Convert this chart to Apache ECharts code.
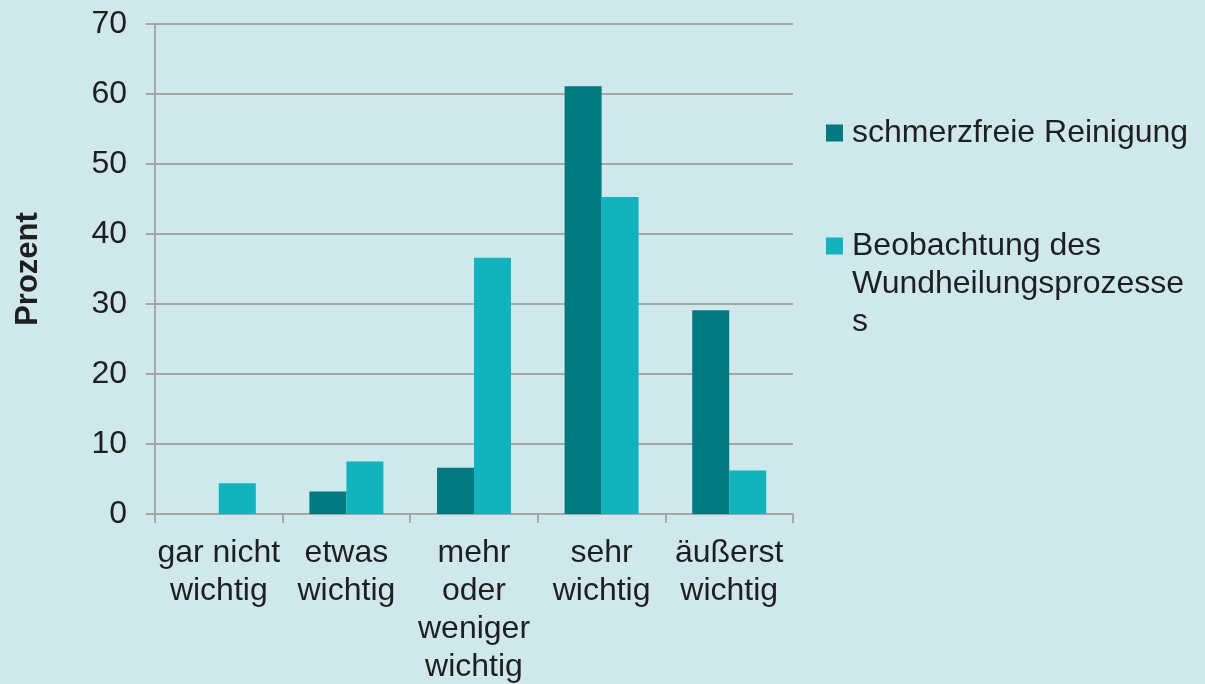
<!DOCTYPE html>
<html>
<head>
<meta charset="utf-8">
<script src="https://cdn.jsdelivr.net/npm/echarts@6/dist/echarts.min.js"></script>
<style>
	html, body { margin: 0; padding: 0; background: #cfe8eb; }
	#chart { width: 1205px; height: 684px; }
</style>
</head>
<body>
<div id="chart"></div>
<script>
// Kategorien (x-Achse)
var categories = [
	"gar nicht\nwichtig",
	"etwas\nwichtig",
	"mehr\noder\nweniger\nwichtig",
	"sehr\nwichtig",
	"äußerst\nwichtig",
];
var seriesNames = ["schmerzfreie Reinigung", "Beobachtung des Wundheilungsprozesses"];
var schmerzfrei = [0, 3.2, 6.6, 61.1, 29.1];
var wundheilung = [4.4, 7.5, 36.6, 45.3, 6.2];
var yTicks = [0, 10, 20, 30, 40, 50, 60, 70];

var textColor = "#1f1f1f";
var font = "Liberation Sans, Arial, sans-serif";

var myChart = echarts.init(document.getElementById("chart"));

var option = {
	backgroundColor: "#cfe8eb",
	animation: false,
	textStyle: { fontFamily: font },
	grid: { left: 155, right: 412, top: 24, bottom: 170, containLabel: false, outerBoundsMode: "none" },
	legend: [
		{
			data: [seriesNames[0]],
			left: 821,
			top: 112,
			icon: "rect",
			itemWidth: 17,
			itemHeight: 17,
			itemGap: 0,
			textStyle: { fontSize: 32, color: textColor, fontFamily: font, padding: [0, 0, 0, 4] },
		},
		{
			data: [seriesNames[1]],
			left: 821,
			top: 146,
			icon: "rect",
			itemWidth: 17,
			itemHeight: 17,
			itemGap: 0,
			formatter: function () {
				return "\n\nBeobachtung des\nWundheilungsprozesse\ns";
			},
			textStyle: { fontSize: 32, lineHeight: 38, color: textColor, fontFamily: font, padding: [0, 0, 0, 4] },
		},
	],
	xAxis: {
		type: "category",
		data: categories,
		axisLine: { lineStyle: { color: "#a6a6a6", width: 2 } },
		axisTick: { show: true, length: 9, lineStyle: { color: "#a6a6a6", width: 2 } },
		axisLabel: { fontSize: 32, lineHeight: 38, color: textColor, margin: 20, interval: 0 },
	},
	yAxis: {
		type: "value",
		min: yTicks[0],
		max: yTicks[yTicks.length - 1],
		interval: 10,
		name: "Prozent",
		nameLocation: "middle",
		nameRotate: 90,
		nameGap: 111,
		nameTextStyle: { fontSize: 31, fontWeight: "bold", color: textColor },
		axisLine: { show: true, lineStyle: { color: "#a6a6a6", width: 2 } },
		axisTick: { show: true, length: 9, lineStyle: { color: "#a6a6a6", width: 2 } },
		axisLabel: { fontSize: 32, color: textColor, margin: 28 },
		splitLine: { lineStyle: { color: "#a6a6a6", width: 2 } },
	},
	series: [
		{
			name: seriesNames[0],
			type: "bar",
			data: schmerzfrei,
			itemStyle: { color: "#007a7e" },
			barGap: "0%",
			barCategoryGap: "42%",
		},
		{
			name: seriesNames[1],
			type: "bar",
			data: wundheilung,
			itemStyle: { color: "#11b4bd" },
		},
	],
};

myChart.setOption(option);
</script>
</body>
</html>
